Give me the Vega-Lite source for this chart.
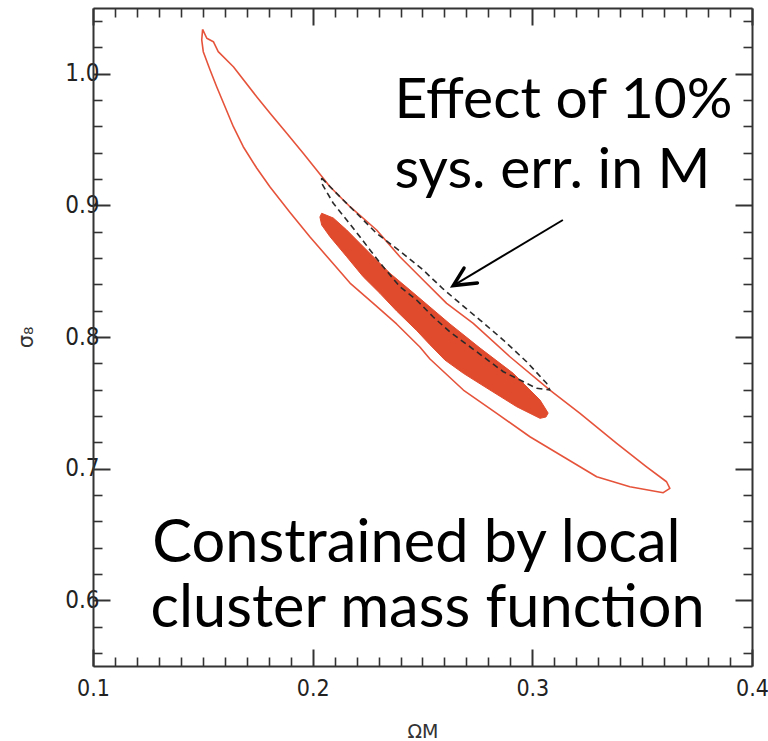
{
  "$schema": "https://vega.github.io/schema/vega-lite/v6.json",
  "width": 659,
  "height": 658,
  "autosize": {"type": "none"},
  "padding": {"left": 93, "top": 8, "right": 16, "bottom": 75},
  "background": "white",
  "config": {
    "view": {"stroke": null},
    "axis": {
      "grid": false,
      "domainColor": "#333333",
      "domainWidth": 2,
      "tickColor": "#333333",
      "labelOverlap": false,
      "labelFlush": false
    }
  },
  "datasets": {
    "outer": [
      {"i": 0, "x": 0.1499, "y": 1.0338}, {"i": 1, "x": 0.1518, "y": 1.0270},
      {"i": 2, "x": 0.1548, "y": 1.0244}, {"i": 3, "x": 0.1570, "y": 1.0168},
      {"i": 4, "x": 0.1639, "y": 1.0054}, {"i": 5, "x": 0.1745, "y": 0.9826},
      {"i": 6, "x": 0.1806, "y": 0.9700}, {"i": 7, "x": 0.1882, "y": 0.9548},
      {"i": 8, "x": 0.1957, "y": 0.9396}, {"i": 9, "x": 0.2018, "y": 0.9269},
      {"i": 10, "x": 0.2079, "y": 0.9142}, {"i": 11, "x": 0.2170, "y": 0.8990},
      {"i": 12, "x": 0.2291, "y": 0.8813}, {"i": 13, "x": 0.2397, "y": 0.8610},
      {"i": 14, "x": 0.2503, "y": 0.8433}, {"i": 15, "x": 0.2610, "y": 0.8256},
      {"i": 16, "x": 0.2731, "y": 0.8104}, {"i": 17, "x": 0.2898, "y": 0.7850},
      {"i": 18, "x": 0.3080, "y": 0.7597}, {"i": 19, "x": 0.3217, "y": 0.7420},
      {"i": 20, "x": 0.3384, "y": 0.7192}, {"i": 21, "x": 0.3520, "y": 0.7014},
      {"i": 22, "x": 0.3611, "y": 0.6900}, {"i": 23, "x": 0.3626, "y": 0.6850},
      {"i": 24, "x": 0.3596, "y": 0.6817}, {"i": 25, "x": 0.3444, "y": 0.6862},
      {"i": 26, "x": 0.3293, "y": 0.6938}, {"i": 27, "x": 0.3141, "y": 0.7090},
      {"i": 28, "x": 0.2989, "y": 0.7242}, {"i": 29, "x": 0.2838, "y": 0.7420},
      {"i": 30, "x": 0.2686, "y": 0.7597}, {"i": 31, "x": 0.2534, "y": 0.7833},
      {"i": 32, "x": 0.2488, "y": 0.7924}, {"i": 33, "x": 0.2382, "y": 0.8099},
      {"i": 34, "x": 0.2276, "y": 0.8256}, {"i": 35, "x": 0.2170, "y": 0.8410},
      {"i": 36, "x": 0.2079, "y": 0.8585}, {"i": 37, "x": 0.1988, "y": 0.8760},
      {"i": 38, "x": 0.1897, "y": 0.8946}, {"i": 39, "x": 0.1806, "y": 0.9140},
      {"i": 40, "x": 0.1745, "y": 0.9284}, {"i": 41, "x": 0.1684, "y": 0.9446},
      {"i": 42, "x": 0.1639, "y": 0.9598}, {"i": 43, "x": 0.1601, "y": 0.9750},
      {"i": 44, "x": 0.1563, "y": 0.9902}, {"i": 45, "x": 0.1533, "y": 1.0029},
      {"i": 46, "x": 0.1502, "y": 1.0168}, {"i": 47, "x": 0.1495, "y": 1.0257},
      {"i": 48, "x": 0.1499, "y": 1.0338}
    ],
    "inner": [
      {"i": 0, "x": 0.2041, "y": 0.8940}, {"i": 1, "x": 0.2094, "y": 0.8904},
      {"i": 2, "x": 0.2155, "y": 0.8813}, {"i": 3, "x": 0.2215, "y": 0.8712},
      {"i": 4, "x": 0.2276, "y": 0.8610}, {"i": 5, "x": 0.2352, "y": 0.8484},
      {"i": 6, "x": 0.2443, "y": 0.8357}, {"i": 7, "x": 0.2534, "y": 0.8228},
      {"i": 8, "x": 0.2625, "y": 0.8099}, {"i": 9, "x": 0.2762, "y": 0.7916},
      {"i": 10, "x": 0.2913, "y": 0.7724}, {"i": 11, "x": 0.3035, "y": 0.7521},
      {"i": 12, "x": 0.3072, "y": 0.7422}, {"i": 13, "x": 0.3062, "y": 0.7392},
      {"i": 14, "x": 0.3035, "y": 0.7382}, {"i": 15, "x": 0.2929, "y": 0.7470},
      {"i": 16, "x": 0.2807, "y": 0.7597}, {"i": 17, "x": 0.2686, "y": 0.7724},
      {"i": 18, "x": 0.2602, "y": 0.7825}, {"i": 19, "x": 0.2534, "y": 0.7941},
      {"i": 20, "x": 0.2473, "y": 0.8050}, {"i": 21, "x": 0.2382, "y": 0.8198},
      {"i": 22, "x": 0.2306, "y": 0.8332}, {"i": 23, "x": 0.2230, "y": 0.8458},
      {"i": 24, "x": 0.2155, "y": 0.8610}, {"i": 25, "x": 0.2079, "y": 0.8762},
      {"i": 26, "x": 0.2041, "y": 0.8851}, {"i": 27, "x": 0.2033, "y": 0.8912},
      {"i": 28, "x": 0.2041, "y": 0.8940}
    ],
    "syserr": [
      {"i": 0, "x": 0.2041, "y": 0.9208}, {"i": 1, "x": 0.2124, "y": 0.9066},
      {"i": 2, "x": 0.2200, "y": 0.8940}, {"i": 3, "x": 0.2291, "y": 0.8788},
      {"i": 4, "x": 0.2397, "y": 0.8653}, {"i": 5, "x": 0.2503, "y": 0.8509},
      {"i": 6, "x": 0.2594, "y": 0.8365}, {"i": 7, "x": 0.2701, "y": 0.8213},
      {"i": 8, "x": 0.2762, "y": 0.8129}, {"i": 9, "x": 0.2868, "y": 0.7977},
      {"i": 10, "x": 0.2974, "y": 0.7812}, {"i": 11, "x": 0.3065, "y": 0.7648},
      {"i": 12, "x": 0.3080, "y": 0.7597}, {"i": 13, "x": 0.3020, "y": 0.7610},
      {"i": 14, "x": 0.2944, "y": 0.7673}, {"i": 15, "x": 0.2868, "y": 0.7736},
      {"i": 16, "x": 0.2807, "y": 0.7812}, {"i": 17, "x": 0.2716, "y": 0.7926},
      {"i": 18, "x": 0.2625, "y": 0.8038}, {"i": 19, "x": 0.2549, "y": 0.8152},
      {"i": 20, "x": 0.2473, "y": 0.8281}, {"i": 21, "x": 0.2397, "y": 0.8382},
      {"i": 22, "x": 0.2321, "y": 0.8534}, {"i": 23, "x": 0.2261, "y": 0.8661},
      {"i": 24, "x": 0.2215, "y": 0.8762}, {"i": 25, "x": 0.2155, "y": 0.8889},
      {"i": 26, "x": 0.2094, "y": 0.9016}, {"i": 27, "x": 0.2041, "y": 0.9168},
      {"i": 28, "x": 0.2041, "y": 0.9208}
    ],
    "shaft": [{"x": 0.3139, "y": 0.8889, "x2": 0.2640, "y2": 0.8391}],
    "head": [
      {"i": 0, "x": 0.2689, "y": 0.8524},
      {"i": 1, "x": 0.2640, "y": 0.8391},
      {"i": 2, "x": 0.2750, "y": 0.8410}
    ],
    "topNote": [
      {"text": "Effect of 10%", "x": 0.2372, "y": 0.9664},
      {"text": "sys. err. in M", "x": 0.2372, "y": 0.9132}
    ],
    "bottomNote": [
      {"text": "Constrained by local", "x": 0.1270, "y": 0.6290},
      {"text": "cluster mass function", "x": 0.1262, "y": 0.5796}
    ]
  },
  "layer": [
    {
      "data": {"name": "outer"},
      "mark": {"type": "line", "color": "#e6533b", "strokeWidth": 1.6, "strokeJoin": "round"},
      "encoding": {
        "x": {
          "field": "x", "type": "quantitative",
          "scale": {"domain": [0.1, 0.4], "nice": false, "zero": false},
          "axis": {
            "orient": "bottom",
            "title": "ΩM",
            "titleFont": "DejaVu Sans",
            "titleFontWeight": "normal",
            "titleFontSize": 19,
            "titleColor": "#333333",
            "titlePadding": 14,
            "labelFont": "Liberation Sans Narrow, DejaVu Sans Condensed, Liberation Sans, sans-serif",
            "labelFontSize": 23,
            "labelColor": "#222222",
            "values": [0.1, 0.11, 0.12, 0.13, 0.14, 0.15, 0.16, 0.17, 0.18, 0.19, 0.2, 0.21, 0.22, 0.23, 0.24, 0.25, 0.26, 0.27, 0.28, 0.29, 0.3, 0.31, 0.32, 0.33, 0.34, 0.35, 0.36, 0.37, 0.38, 0.39, 0.4],
            "labelExpr": "abs(datum.value * 10 - round(datum.value * 10)) < 1e-6 ? format(datum.value, '.1f') : ''",
            "tickSize": {"condition": {"test": "abs(datum.value * 10 - round(datum.value * 10)) < 1e-6", "value": -17}, "value": -9},
            "tickWidth": {"condition": {"test": "abs(datum.value * 10 - round(datum.value * 10)) < 1e-6", "value": 2}, "value": 1.6},
            "labelPadding": 28
          }
        },
        "y": {
          "field": "y", "type": "quantitative",
          "scale": {"domain": [0.55, 1.05], "nice": false, "zero": false},
          "axis": {
            "orient": "left",
            "title": "σ₈",
            "titleFont": "DejaVu Sans",
            "titleFontWeight": "normal",
            "titleFontSize": 21,
            "titleColor": "#333333",
            "titlePadding": 28,
            "labelFont": "Liberation Sans Narrow, DejaVu Sans Condensed, Liberation Sans, sans-serif",
            "labelFontSize": 24,
            "labelColor": "#222222",
            "values": [0.56, 0.58, 0.6, 0.62, 0.64, 0.66, 0.68, 0.7, 0.72, 0.74, 0.76, 0.78, 0.8, 0.82, 0.84, 0.86, 0.88, 0.9, 0.92, 0.94, 0.96, 0.98, 1.0, 1.02, 1.04],
            "labelExpr": "abs(datum.value * 10 - round(datum.value * 10)) < 1e-6 ? format(datum.value, '.1f') : ''",
            "tickSize": {"condition": {"test": "abs(datum.value * 10 - round(datum.value * 10)) < 1e-6", "value": -17}, "value": -9},
            "tickWidth": {"condition": {"test": "abs(datum.value * 10 - round(datum.value * 10)) < 1e-6", "value": 2}, "value": 1.6},
            "labelPadding": 11
          }
        },
        "order": {"field": "i", "type": "quantitative"}
      }
    },
    {
      "data": {"name": "inner"},
      "mark": {"type": "line", "fill": "#e04a2d", "stroke": "#e04a2d", "strokeWidth": 1, "strokeJoin": "round"},
      "encoding": {
        "x": {
          "field": "x", "type": "quantitative",
          "scale": {"domain": [0.1, 0.4], "nice": false, "zero": false},
          "axis": {
            "orient": "top",
            "title": null,
            "labels": false,
            "values": [0.1, 0.11, 0.12, 0.13, 0.14, 0.15, 0.16, 0.17, 0.18, 0.19, 0.2, 0.21, 0.22, 0.23, 0.24, 0.25, 0.26, 0.27, 0.28, 0.29, 0.3, 0.31, 0.32, 0.33, 0.34, 0.35, 0.36, 0.37, 0.38, 0.39, 0.4],
            "tickSize": {"condition": {"test": "abs(datum.value * 10 - round(datum.value * 10)) < 1e-6", "value": -17}, "value": -9},
            "tickWidth": {"condition": {"test": "abs(datum.value * 10 - round(datum.value * 10)) < 1e-6", "value": 2}, "value": 1.6}
          }
        },
        "y": {
          "field": "y", "type": "quantitative",
          "scale": {"domain": [0.55, 1.05], "nice": false, "zero": false},
          "axis": {
            "orient": "right",
            "title": null,
            "labels": false,
            "values": [0.56, 0.58, 0.6, 0.62, 0.64, 0.66, 0.68, 0.7, 0.72, 0.74, 0.76, 0.78, 0.8, 0.82, 0.84, 0.86, 0.88, 0.9, 0.92, 0.94, 0.96, 0.98, 1.0, 1.02, 1.04],
            "tickSize": {"condition": {"test": "abs(datum.value * 10 - round(datum.value * 10)) < 1e-6", "value": -17}, "value": -9},
            "tickWidth": {"condition": {"test": "abs(datum.value * 10 - round(datum.value * 10)) < 1e-6", "value": 2}, "value": 1.6}
          }
        },
        "order": {"field": "i", "type": "quantitative"}
      }
    },
    {
      "data": {"name": "syserr"},
      "mark": {"type": "line", "color": "#2a2a2a", "strokeWidth": 1.6, "strokeDash": [6, 4], "strokeJoin": "round"},
      "encoding": {
        "x": {"field": "x", "type": "quantitative", "axis": null},
        "y": {"field": "y", "type": "quantitative", "axis": null},
        "order": {"field": "i", "type": "quantitative"}
      }
    },
    {
      "data": {"name": "shaft"},
      "mark": {"type": "rule", "color": "#000000", "strokeWidth": 2},
      "encoding": {
        "x": {"field": "x", "type": "quantitative", "axis": null},
        "y": {"field": "y", "type": "quantitative", "axis": null},
        "x2": {"field": "x2"},
        "y2": {"field": "y2"}
      }
    },
    {
      "data": {"name": "head"},
      "mark": {"type": "line", "color": "#000000", "strokeWidth": 3.5, "strokeJoin": "miter", "strokeCap": "round"},
      "encoding": {
        "x": {"field": "x", "type": "quantitative", "axis": null},
        "y": {"field": "y", "type": "quantitative", "axis": null},
        "order": {"field": "i", "type": "quantitative"}
      }
    },
    {
      "data": {"name": "topNote"},
      "mark": {"type": "text", "align": "left", "baseline": "alphabetic", "font": "Lato", "fontSize": 57, "color": "#000000"},
      "encoding": {
        "x": {"field": "x", "type": "quantitative", "axis": null},
        "y": {"field": "y", "type": "quantitative", "axis": null},
        "text": {"field": "text"}
      }
    },
    {
      "data": {"name": "bottomNote"},
      "mark": {"type": "text", "align": "left", "baseline": "alphabetic", "font": "Lato", "fontSize": 59.5, "color": "#000000"},
      "encoding": {
        "x": {"field": "x", "type": "quantitative", "axis": null},
        "y": {"field": "y", "type": "quantitative", "axis": null},
        "text": {"field": "text"}
      }
    }
  ],
  "resolve": {"axis": {"x": "independent", "y": "independent"}}
}
